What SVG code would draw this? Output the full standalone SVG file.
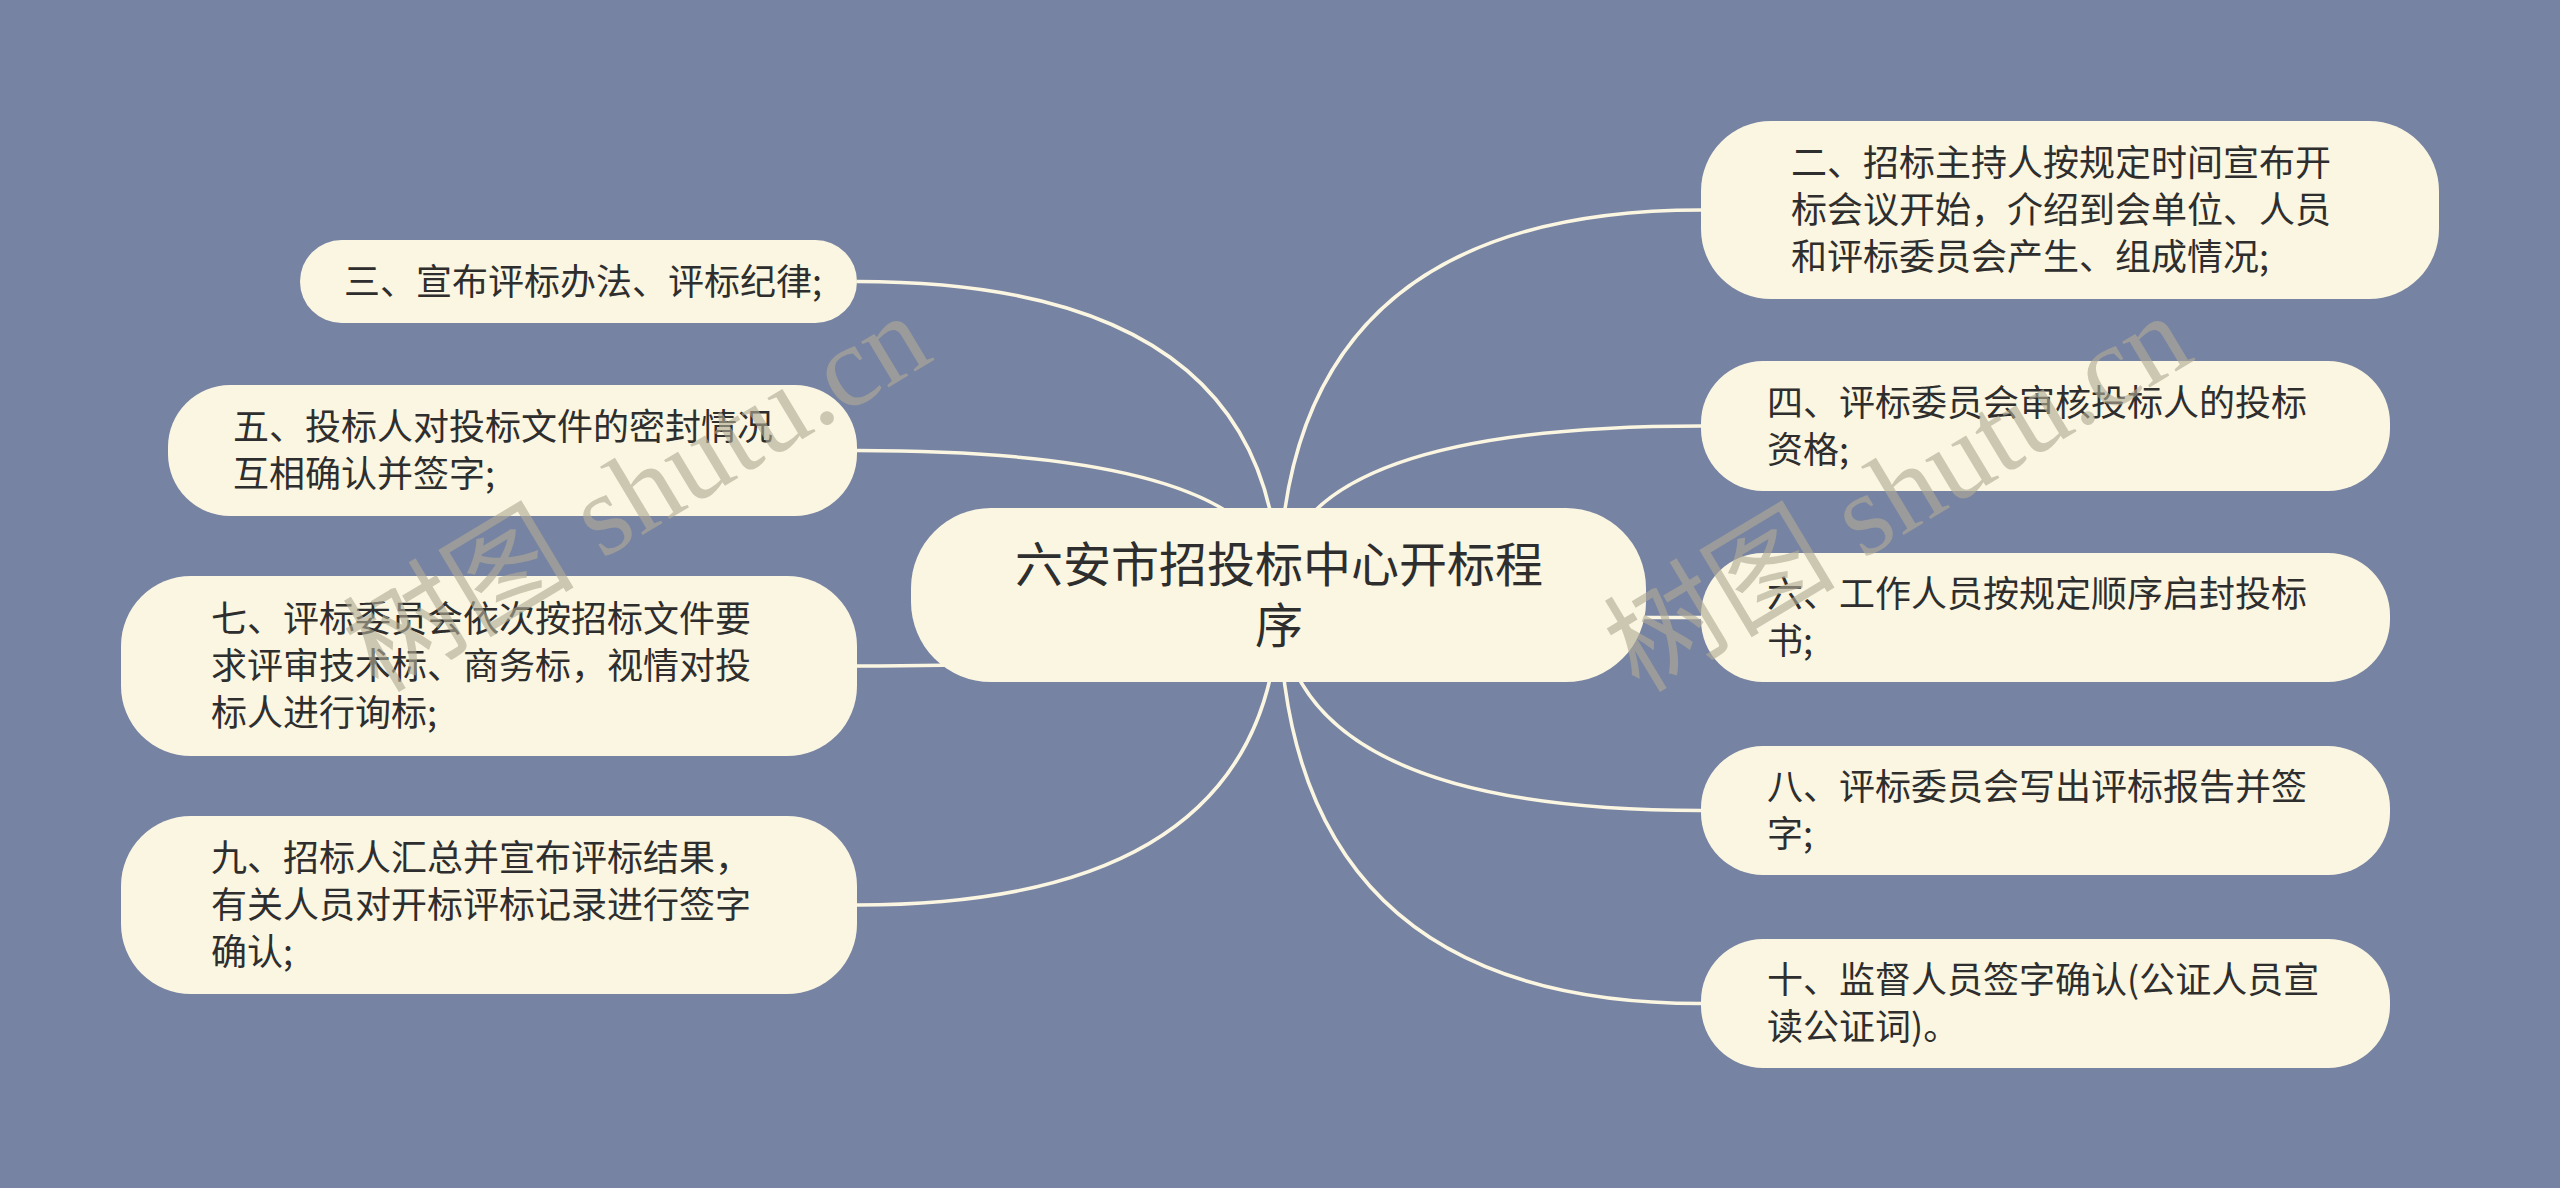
<svg xmlns="http://www.w3.org/2000/svg" width="2560" height="1188" viewBox="0 0 2560 1188">
<style>
.bg{fill:#7683a3}
.node{fill:#fbf6e1}
.t{font-family:"Noto Sans CJK SC","Noto Sans",sans-serif;font-size:36px;fill:#2e2e2e}
.title{font-family:"Noto Sans CJK SC","Noto Sans",sans-serif;font-size:48px;fill:#2e2e2e;text-anchor:middle}
.link{fill:none;stroke:#fbf6e1;stroke-width:3.5}
.wm{font-family:"Liberation Serif","Noto Sans CJK SC",serif;font-size:116px;fill:#b0ab95;opacity:0.62}
</style>
<rect class="bg" x="0" y="0" width="2560" height="1188"/>
<g id="connectors">
<path class="link" d="M1279,595 Q1279,210 1701,210"/>
<path class="link" d="M1279,595 Q1279,426 1701,426"/>
<path class="link" d="M1279,595 Q1279,617.5 1701,617.5"/>
<path class="link" d="M1279,595 Q1279,810.5 1701,810.5"/>
<path class="link" d="M1279,595 Q1279,1003.5 1701,1003.5"/>
<path class="link" d="M1279,595 Q1279,281.5 857,281.5"/>
<path class="link" d="M1279,595 Q1279,450.5 857,450.5"/>
<path class="link" d="M1279,595 Q1279,666 857,666"/>
<path class="link" d="M1279,595 Q1279,905 857,905"/>
</g>
<g id="root">
<rect class="node" x="911" y="508" width="735" height="174" rx="80" ry="80"/>
<text class="title" x="1279" y="582">六安市招投标中心开标程</text>
<text class="title" x="1279" y="643">序</text>
</g>
<g id="n2">
<rect class="node" x="1701" y="121" width="738" height="178" rx="70" ry="70"/>
<text class="t" x="1791" y="176">二、招标主持人按规定时间宣布开</text>
<text class="t" x="1791" y="223">标会议开始，介绍到会单位、人员</text>
<text class="t" x="1791" y="270">和评标委员会产生、组成情况;</text>
</g>
<g id="n4">
<rect class="node" x="1701" y="361" width="689" height="130" rx="62" ry="62"/>
<text class="t" x="1767" y="416">四、评标委员会审核投标人的投标</text>
<text class="t" x="1767" y="463">资格;</text>
</g>
<g id="n6">
<rect class="node" x="1701" y="553" width="689" height="129" rx="62" ry="62"/>
<text class="t" x="1767" y="607">六、工作人员按规定顺序启封投标</text>
<text class="t" x="1767" y="654">书;</text>
</g>
<g id="n8">
<rect class="node" x="1701" y="746" width="689" height="129" rx="62" ry="62"/>
<text class="t" x="1767" y="800">八、评标委员会写出评标报告并签</text>
<text class="t" x="1767" y="847">字;</text>
</g>
<g id="n10">
<rect class="node" x="1701" y="939" width="689" height="129" rx="62" ry="62"/>
<text class="t" x="1767" y="993">十、监督人员签字确认(公证人员宣</text>
<text class="t" x="1767" y="1040">读公证词)。</text>
</g>
<g id="n3">
<rect class="node" x="300" y="240" width="557" height="83" rx="41.5" ry="41.5"/>
<text class="t" x="344" y="295">三、宣布评标办法、评标纪律;</text>
</g>
<g id="n5">
<rect class="node" x="168" y="385" width="689" height="131" rx="62" ry="62"/>
<text class="t" x="233" y="440">五、投标人对投标文件的密封情况</text>
<text class="t" x="233" y="487">互相确认并签字;</text>
</g>
<g id="n7">
<rect class="node" x="121" y="576" width="736" height="180" rx="70" ry="70"/>
<text class="t" x="211" y="632">七、评标委员会依次按招标文件要</text>
<text class="t" x="211" y="679">求评审技术标、商务标，视情对投</text>
<text class="t" x="211" y="726">标人进行询标;</text>
</g>
<g id="n9">
<rect class="node" x="121" y="816" width="736" height="178" rx="70" ry="70"/>
<text class="t" x="211" y="871">九、招标人汇总并宣布评标结果，</text>
<text class="t" x="211" y="918">有关人员对开标评标记录进行签字</text>
<text class="t" x="211" y="965">确认;</text>
</g>
<g id="watermark">
<text class="wm" x="378" y="694" transform="rotate(-31 378 694)">树图 shutu.cn</text>
<text class="wm" x="1639" y="694" transform="rotate(-31 1639 694)">树图 shutu.cn</text>
</g>
</svg>
